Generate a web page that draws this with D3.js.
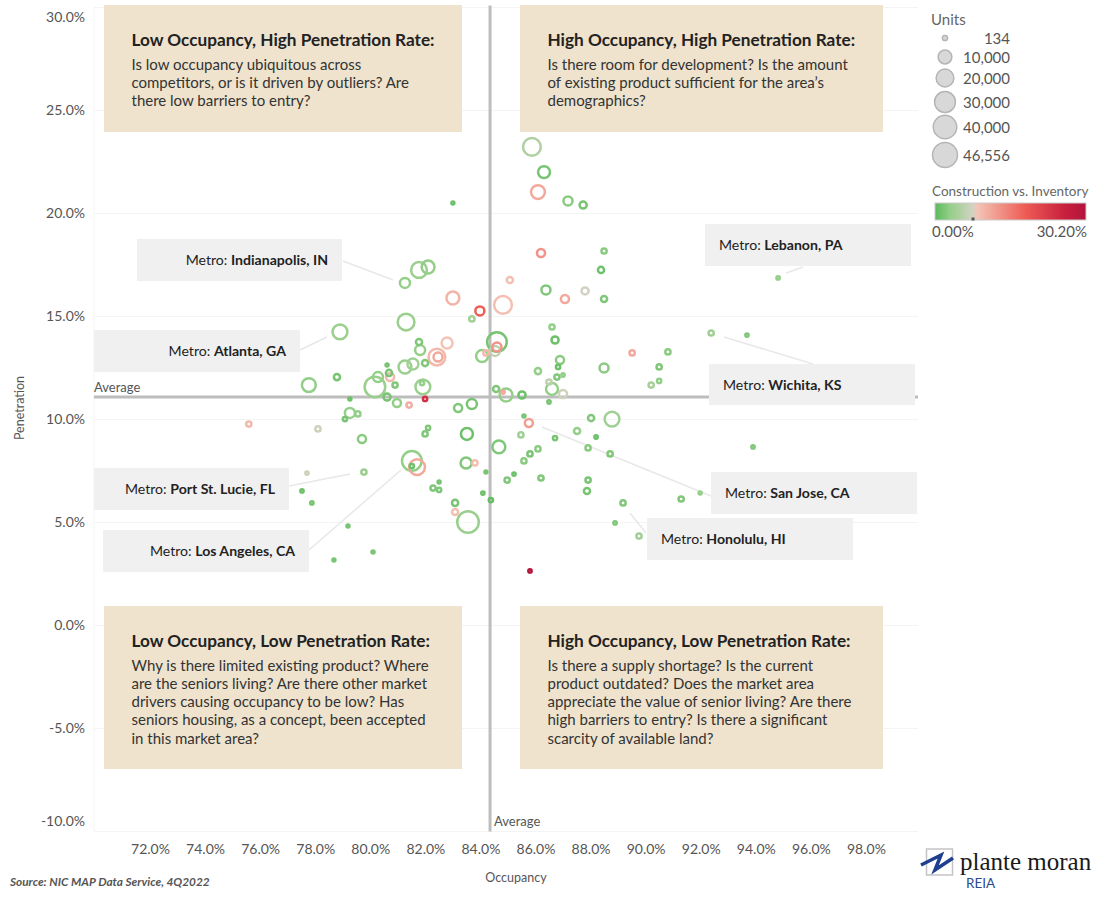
<!DOCTYPE html>
<html>
<head>
<meta charset="utf-8">
<script src="https://cdn.jsdelivr.net/npm/d3@7"></script>
<style>
  html, body { margin: 0; padding: 0; background: #fff; }
  svg { display: block; font-family: Lato, sans-serif; }
  .tick text { font-family: Lato, sans-serif; font-size: 14px; fill: #555; }
  .axis-title { font-size: 12.5px; fill: #555; }
  .quad-title { font-size: 17.2px; font-weight: 700; fill: #222; }
  .quad-body { font-size: 15px; fill: #333; }
  .metro { font-size: 14.1px; fill: #222; }
  .legend-title { font-size: 13.5px; fill: #666; }
  .legend-label { font-size: 15px; fill: #555; }
</style>
</head>
<body>
<svg id="chart" width="1100" height="900"></svg>
<script>
// ========= data =========
const occupancy = [
  85.87, 86.31, 86.09, 87.18, 87.73, 83.00, 86.20, 88.49, 88.38, 85.07, 86.38, 87.07, 87.80, 88.49, 84.82, 83.98, 83.69, 83.00, 81.26, 81.77,
  82.10, 81.30, 78.90, 81.77, 81.81, 82.79, 82.42, 82.46, 81.99, 81.55, 81.26, 80.61, 80.68, 80.28, 80.72, 80.17, 80.90, 78.79, 77.77, 81.91,
  81.88, 80.61, 79.26, 80.97, 81.41, 81.99, 84.60, 84.60, 84.20, 84.06, 84.53, 86.60, 86.71, 86.89, 86.82, 86.09, 86.78, 87.00, 88.49, 86.49,
  86.60, 87.00, 84.57, 84.93, 84.82, 85.51, 83.69, 83.19, 86.49, 79.26, 79.55, 79.08, 78.10, 79.70, 82.10, 81.99, 83.51, 84.67, 85.58, 85.76,
  85.47, 88.02, 88.78, 87.51, 86.71, 88.20, 86.09, 85.80, 87.91, 88.71, 85.58, 81.51, 81.70, 81.51, 79.77, 77.70, 83.48, 83.80, 84.20, 85.22,
  84.97, 86.20, 87.91, 87.87, 89.18, 82.50, 82.28, 82.50, 84.09, 84.38, 83.08, 83.08, 83.55, 77.52, 77.88, 79.19, 80.10, 78.68, 85.80, 88.89,
  94.81, 92.38, 93.68, 89.51, 90.81, 90.49, 90.49, 90.20, 93.90, 91.98, 91.29, 89.76, 75.59
];
const penetration = [
  23.23, 22.01, 21.04, 20.61, 20.41, 20.51, 18.08, 18.18, 17.26, 16.77, 16.29, 15.85, 16.24, 15.85, 15.56, 15.27, 14.88, 15.90, 16.63, 17.26,
  17.40, 14.73, 14.25, 13.76, 13.37, 13.71, 13.03, 13.03, 12.74, 12.69, 12.55, 12.65, 12.26, 12.06, 12.06, 11.58, 11.67, 12.06, 11.67, 11.58,
  11.77, 11.09, 11.00, 10.80, 10.70, 11.00, 13.76, 13.52, 13.23, 13.08, 13.33, 14.49, 13.86, 12.89, 12.55, 12.35, 12.06, 12.16, 12.50, 11.82,
  11.48, 11.24, 11.48, 11.19, 11.33, 11.19, 10.75, 10.56, 10.85, 10.32, 10.27, 10.02, 9.54, 9.05, 9.59, 9.30, 9.30, 8.67, 10.17, 9.83,
  9.25, 10.07, 10.02, 9.44, 9.10, 9.15, 8.57, 8.33, 8.62, 8.33, 7.99, 7.99, 7.69, 7.74, 7.45, 7.40, 7.89, 7.89, 7.45, 7.35,
  7.06, 7.16, 7.06, 6.53, 5.95, 6.97, 6.67, 6.58, 6.43, 6.09, 5.95, 5.51, 5.02, 6.53, 5.95, 4.83, 3.57, 3.18, 2.65, 4.98,
  16.87, 14.20, 14.10, 13.23, 13.28, 12.55, 11.87, 11.67, 8.67, 6.43, 6.14, 4.34, 9.78
];
const units = [
  27650, 11400, 16000, 5930, 3270, 134, 4500, 1400, 2240, 2240, 5930, 4500, 3270, 2240, 27650, 5930, 1400, 13600, 7570, 21400,
  13600, 24450, 18650, 2240, 7570, 9390, 24450, 5930, 2240, 9390, 13600, 134, 2240, 7570, 4500, 38400, 1400, 2240, 16000, 18650,
  755, 3270, 134, 4500, 1400, 755, 34600, 5930, 1400, 11400, 7570, 1400, 3270, 4500, 755, 2240, 1400, 306, 5930, 1400,
  11400, 4500, 2240, 13600, 306, 3270, 7570, 4500, 306, 7570, 1400, 755, 1400, 4500, 755, 1400, 11400, 13600, 134, 4500,
  1400, 2240, 18650, 2240, 755, 306, 1400, 1400, 1400, 1400, 1400, 34600, 21400, 755, 1400, 306, 9390, 1400, 134, 306,
  1400, 1400, 1400, 2240, 1400, 134, 1400, 755, 306, 755, 2240, 2240, 42400, 306, 306, 134, 134, 134, 306, 306,
  306, 1400, 306, 1400, 1400, 1400, 755, 1400, 306, 134, 1400, 1400, 1400
];
const construction = [
  5, 1.5, 11, 2.5, 1.5, 1, 13, 2.5, 1, 9, 2, 11, 7.5, 2, 9, 18, 4, 10, 3, 3.5,
  3, 3.5, 3.5, 2, 3, 8.5, 9.5, 11, 2, 4, 3.5, 1.5, 1.5, 3, 9.5, 3.5, 2, 1.5, 3, 3.5,
  3, 1.5, 1, 3, 10.5, 24, 1.5, 13, 9.5, 3, 6, 3, 1, 2.5, 1, 3, 2, 3, 2.5, 6,
  3, 7, 2, 3, 11, 1, 1.5, 2, 1.5, 3, 3, 1.5, 7, 2.5, 2, 2, 1, 2, 1.5, 12,
  4, 2, 4, 3, 1.5, 1, 2.5, 1.5, 2.5, 2, 2.5, 3, 11, 1, 3.5, 7, 2, 9, 1.5, 1,
  2, 2, 1.5, 1.5, 2, 1.5, 2, 2, 1, 0.5, 1.5, 9, 3.5, 1, 1.5, 1.5, 1.5, 1.5, 30, 2,
  3, 4, 2, 11, 2.5, 2, 3, 4.5, 2, 3, 2, 4, 9.5
];

const xTicks = [72, 74, 76, 78, 80, 82, 84, 86, 88, 90, 92, 94, 96, 98];
const yTicks = [30, 25, 20, 15, 10, 5, 0, -5, -10];
const avgOccupancy = 84.35;
const avgPenetration = 11.09;

const legendUnits = [134, 10000, 20000, 30000, 40000, 46556];
const colorStops = [0, 3, 7.5, 8.5, 18, 26, 30.2];
const colorValues = ["#5cb85c", "#93cf88", "#d3d2c2", "#f3c4b6", "#ee5c55", "#c81f3e", "#b2143d"];

const quadrants = [
  { title: "Low Occupancy, High Penetration Rate:", lines: ["Is low occupancy ubiquitous across", "competitors, or is it driven by outliers? Are", "there low barriers to entry?"] },
  { title: "High Occupancy, High Penetration Rate:", lines: ["Is there room for development? Is the amount", "of existing product sufficient for the area’s", "demographics?"] },
  { title: "Low Occupancy, Low Penetration Rate:", lines: ["Why is there limited existing product? Where", "are the seniors living? Are there other market", "drivers causing occupancy to be low? Has", "seniors housing, as a concept, been accepted", "in this market area?"] },
  { title: "High Occupancy, Low Penetration Rate:", lines: ["Is there a supply shortage? Is the current", "product outdated? Does the market area", "appreciate the value of senior living? Are there", "high barriers to entry? Is there a significant", "scarcity of available land?"] }
];
const metros = ["Indianapolis, IN", "Atlanta, GA", "Lebanon, PA", "Wichita, KS", "San Jose, CA", "Honolulu, HI", "Port St. Lucie, FL", "Los Angeles, CA"];

// ========= layout of the annotations =========
const quadBoxes = [
  { x: 104, y: 5, w: 358, h: 127 },
  { x: 520, y: 5, w: 363, h: 127 },
  { x: 104, y: 606, w: 358, h: 163 },
  { x: 520, y: 606, w: 363, h: 163 }
];
// box, text anchor and leader line for each metro call-out
const metroBoxes = [
  { x: 137, y: 239, w: 205, h: 42, tx: 328, anchor: "end", line: [343, 261, 393, 280] },
  { x: 94, y: 330, w: 206, h: 42, tx: 286, anchor: "end", line: [300, 350, 327, 337] },
  { x: 705, y: 224, w: 206, h: 42, tx: 719, anchor: "start", line: [803, 267, 786, 273] },
  { x: 709, y: 364, w: 206, h: 41, tx: 723, anchor: "start", line: [724, 337, 813, 364] },
  { x: 711, y: 472, w: 206, h: 42, tx: 725, anchor: "start", line: [542, 427, 711, 496] },
  { x: 647, y: 518, w: 206, h: 42, tx: 661, anchor: "start", line: [630, 513, 646, 533] },
  { x: 94, y: 468, w: 195, h: 42, tx: 275, anchor: "end", line: [289, 486, 350, 474] },
  { x: 103, y: 530, w: 206, h: 42, tx: 295, anchor: "end", line: [309, 550, 401, 470] }
];

// ========= scales =========
const svg = d3.select("#chart");
const plotLeft = 94, plotRight = 918;
const ringWidth = 2.5;

const x = d3.scaleLinear().domain([70, 100]).range([94.9, 921]);
const y = d3.scaleLinear().domain([-10, 30]).range([831.5, 7.5]);
const r = d3.scaleSqrt().domain([134, 46556]).range([2.6, 12.5]);
const color = d3.scaleLinear().domain(colorStops).range(colorValues);

// ========= grid and axes =========
svg.append("g")
  .selectAll("line")
  .data(yTicks)
  .join("line")
  .attr("x1", plotLeft)
  .attr("x2", plotRight)
  .attr("y1", d => y(d))
  .attr("y2", d => y(d))
  .attr("stroke", "#f4f4f4");

svg.append("line")
  .attr("x1", plotLeft).attr("x2", plotLeft)
  .attr("y1", y(30)).attr("y2", y(-10))
  .attr("stroke", "#f4f4f4");

const yAxis = svg.append("g")
  .attr("transform", "translate(85,0)")
  .call(d3.axisLeft(y).tickValues(yTicks).tickSize(0).tickPadding(0).tickFormat(d => `${d.toFixed(1)}%`));
yAxis.select(".domain").remove();
// the first and last label sit inside the plot edge
yAxis.selectAll(".tick text")
  .attr("y", d => d === 30 ? 10 : d === -10 ? -10 : 0);

const xAxis = svg.append("g")
  .attr("transform", "translate(0,850)")
  .call(d3.axisBottom(x).tickValues(xTicks).tickSize(0).tickPadding(0).tickFormat(d => `${d.toFixed(1)}%`));
xAxis.select(".domain").remove();
xAxis.selectAll(".tick text").attr("dy", "0.32em").attr("y", 0);

svg.append("text")
  .attr("class", "axis-title")
  .attr("x", 516).attr("y", 882)
  .attr("text-anchor", "middle")
  .text("Occupancy");

svg.append("text")
  .attr("class", "axis-title")
  .attr("transform", "translate(24,408) rotate(-90)")
  .attr("text-anchor", "middle")
  .text("Penetration");

svg.append("text")
  .attr("x", 10).attr("y", 886)
  .attr("font-size", 11.8)
  .attr("font-style", "italic")
  .attr("font-weight", 700)
  .attr("fill", "#555")
  .text("Source: NIC MAP Data Service, 4Q2022");

// ========= average lines =========
svg.append("line")
  .attr("x1", plotLeft).attr("x2", plotRight)
  .attr("y1", y(avgPenetration)).attr("y2", y(avgPenetration))
  .attr("stroke", "#bdbdbd").attr("stroke-width", 3);

svg.append("line")
  .attr("x1", x(avgOccupancy)).attr("x2", x(avgOccupancy))
  .attr("y1", y(30) - 2).attr("y2", y(-10))
  .attr("stroke", "#bdbdbd").attr("stroke-width", 3);

svg.append("text")
  .attr("x", 94).attr("y", 392)
  .attr("font-size", 13).attr("fill", "#555")
  .text("Average");

svg.append("text")
  .attr("x", 494).attr("y", 826)
  .attr("font-size", 13).attr("fill", "#555")
  .text("Average");

// ========= leader lines =========
svg.append("g")
  .selectAll("line")
  .data(metroBoxes)
  .join("line")
  .attr("x1", d => d.line[0])
  .attr("y1", d => d.line[1])
  .attr("x2", d => d.line[2])
  .attr("y2", d => d.line[3])
  .attr("stroke", "#e8e8e8")
  .attr("stroke-width", 1.5);

// ========= rings =========
// biggest first so the small ones stay visible
const points = occupancy.map((o, i) => ({
  occ: o,
  pen: penetration[i],
  units: units[i],
  cons: construction[i]
})).sort((a, b) => b.units - a.units);

svg.append("g")
  .selectAll("circle")
  .data(points)
  .join("circle")
  .attr("cx", d => x(d.occ))
  .attr("cy", d => y(d.pen))
  .attr("r", d => Math.max(r(d.units) - ringWidth / 2, 1.5))
  .attr("fill", "none")
  .attr("stroke", d => color(d.cons))
  .attr("stroke-width", ringWidth);

// ========= quadrant notes =========
const quadG = svg.append("g")
  .selectAll("g")
  .data(quadrants)
  .join("g")
  .attr("transform", (d, i) => `translate(${quadBoxes[i].x},${quadBoxes[i].y})`);

quadG.append("rect")
  .attr("width", (d, i) => quadBoxes[i].w)
  .attr("height", (d, i) => quadBoxes[i].h)
  .attr("fill", "#efe3cd");

quadG.append("text")
  .attr("class", "quad-title")
  .attr("x", 27.5)
  .attr("y", 41)
  .text(d => d.title);

quadG.each(function (d) {
  d3.select(this).selectAll(".quad-body")
    .data(d.lines)
    .join("text")
    .attr("class", "quad-body")
    .attr("x", 27.5)
    .attr("y", (l, j) => 64.5 + j * 18.3)
    .text(l => l);
});

// ========= metro call-outs =========
const metroG = svg.append("g")
  .selectAll("g")
  .data(metros)
  .join("g");

metroG.append("rect")
  .attr("x", (d, i) => metroBoxes[i].x)
  .attr("y", (d, i) => metroBoxes[i].y)
  .attr("width", (d, i) => metroBoxes[i].w)
  .attr("height", (d, i) => metroBoxes[i].h)
  .attr("fill", "#f0f0f0");

const metroText = metroG.append("text")
  .attr("class", "metro")
  .attr("x", (d, i) => metroBoxes[i].tx)
  .attr("y", (d, i) => metroBoxes[i].y + 26)
  .attr("text-anchor", (d, i) => metroBoxes[i].anchor);
metroText.append("tspan").text("Metro: ");
metroText.append("tspan").attr("font-weight", 700).text(d => d);

// ========= units legend =========
svg.append("text")
  .attr("x", 931).attr("y", 25)
  .attr("font-size", 15).attr("fill", "#666")
  .text("Units");

const legendY = [38, 57, 78, 102, 127, 155];
const unitRows = svg.append("g")
  .selectAll("g")
  .data(legendUnits)
  .join("g")
  .attr("transform", (d, i) => `translate(945,${legendY[i]})`);

unitRows.append("circle")
  .attr("r", d => r(d))
  .attr("fill", "#d8d8d8")
  .attr("stroke", "#b5b5b5")
  .attr("stroke-width", 1.5);

unitRows.append("text")
  .attr("class", "legend-label")
  .attr("x", 65).attr("y", 5.5)
  .attr("text-anchor", "end")
  .text(d => d3.format(",")(d));

// ========= colour legend =========
svg.append("text")
  .attr("class", "legend-title")
  .attr("x", 932).attr("y", 196)
  .text("Construction vs. Inventory");

const gradient = svg.append("defs").append("linearGradient")
  .attr("id", "cons-gradient");
colorStops.forEach((s, i) => {
  gradient.append("stop")
    .attr("offset", `${s / 30.2 * 100}%`)
    .attr("stop-color", colorValues[i]);
});

svg.append("rect")
  .attr("x", 935).attr("y", 203)
  .attr("width", 151).attr("height", 17)
  .attr("fill", "url(#cons-gradient)")
  .attr("stroke", "#ccc");

svg.append("rect")
  .attr("x", 971.5).attr("y", 217.5)
  .attr("width", 3).attr("height", 3)
  .attr("fill", "#555");

svg.append("text")
  .attr("class", "legend-label")
  .attr("x", 932).attr("y", 237)
  .text("0.00%");

svg.append("text")
  .attr("class", "legend-label")
  .attr("x", 1087).attr("y", 237)
  .attr("text-anchor", "end")
  .text("30.20%");

// ========= logo =========
svg.append("rect")
  .attr("x", 926.5).attr("y", 849)
  .attr("width", 26).attr("height", 26)
  .attr("fill", "#fff")
  .attr("stroke", "#c4c4c4")
  .attr("stroke-width", 1.5);

svg.append("path")
  .attr("d", "M921,865 L941,855 L935,870 L953,858")
  .attr("fill", "none")
  .attr("stroke", "#1f3f8f")
  .attr("stroke-width", 3.5);

svg.append("text")
  .attr("x", 960).attr("y", 870)
  .attr("font-family", "'Liberation Serif', serif")
  .attr("font-size", 25)
  .attr("fill", "#1a1a1a")
  .text("plante moran");

svg.append("text")
  .attr("x", 966).attr("y", 888)
  .attr("font-size", 13.5)
  .attr("fill", "#2c4b8e")
  .text("REIA");
</script>
</body>
</html>
